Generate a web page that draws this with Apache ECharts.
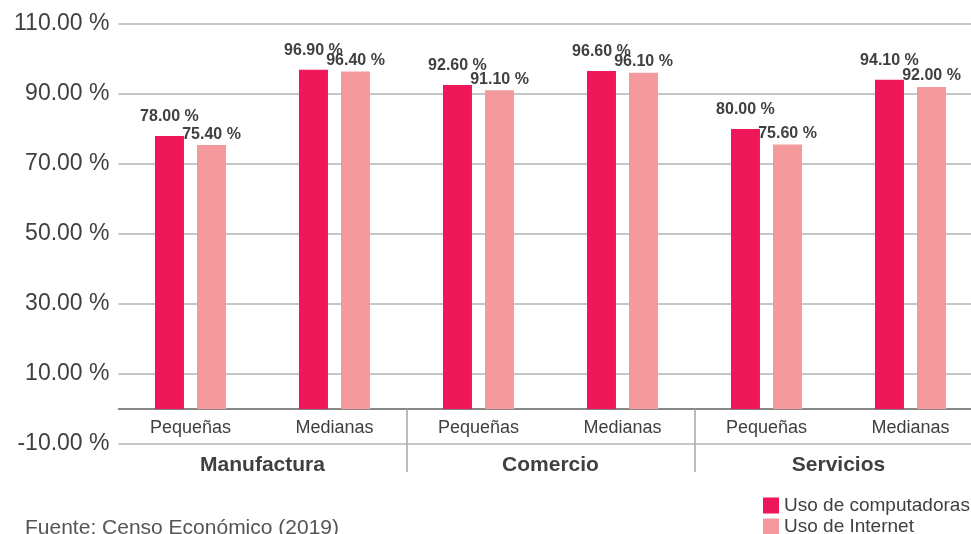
<!DOCTYPE html>
<html>
<head>
<meta charset="utf-8">
<script src="https://cdn.jsdelivr.net/npm/echarts@6/dist/echarts.min.js"></script>
<style>
  html, body { margin: 0; padding: 0; background: #fff; overflow: hidden; }
  #chart { width: 990px; height: 534px; }
</style>
</head>
<body>
<div id="chart"></div>
<script>
// tamaños de empresa por sector
const categories = ['Pequeñas', 'Medianas', 'Pequeñas', 'Medianas', 'Pequeñas', 'Medianas']
const sectors = ['Manufactura', 'Comercio', 'Servicios']
const usoComputadoras = [78.0, 96.9, 92.6, 96.6, 80.0, 94.1]
const usoInternet = [75.4, 96.4, 91.1, 96.1, 75.6, 92.0]

const textColor = '#404040'
const fontFamily = '"Liberation Sans", Arial, sans-serif'
const pct = v => v.toFixed(2) + ' %'

const legendText = { color: textColor, fontSize: 19 }

const chart = echarts.init(document.getElementById('chart'))
chart.setOption({
  animation: false,
  textStyle: { fontFamily: fontFamily },
  grid: { left: 118.5, top: 24, width: 864, height: 420 },
  // una leyenda por serie, apiladas
  legend: [
    {
      data: ['Uso de computadoras'],
      left: 763, top: 496,
      icon: 'rect', itemWidth: 16, itemHeight: 16, padding: 0,
      textStyle: legendText
    },
    {
      data: ['Uso de Internet'],
      left: 763, top: 517,
      icon: 'rect', itemWidth: 16, itemHeight: 16, padding: 0,
      textStyle: legendText
    }
  ],
  graphic: [{
    type: 'text',
    left: 25,
    top: 518,
    style: { text: 'Fuente: Censo Económico (2019)', fill: '#555', font: '21px ' + fontFamily }
  }],
  xAxis: [
    {
      type: 'category',
      data: categories,
      position: 'bottom',
      offset: -35, // linea en el 0
      axisLine: { onZero: false, lineStyle: { color: '#606060', width: 1.5 } },
      axisTick: {
        show: true,
        length: 63,
        interval: (index) => index === 2 || index === 4,
        lineStyle: { color: '#A6A6A6', width: 1.5 }
      },
      axisLabel: { color: textColor, fontSize: 18, margin: 10, interval: 0 }
    },
    {
      type: 'category',
      data: sectors,
      position: 'bottom',
      axisLine: { show: false, onZero: false },
      axisTick: { show: false },
      axisLabel: { color: textColor, fontSize: 21, fontWeight: 'bold', margin: 11, interval: 0 }
    }
  ],
  yAxis: {
    type: 'value',
    min: -10,
    max: 110,
    interval: 20,
    axisLine: { show: false },
    axisTick: { show: false },
    axisLabel: { color: textColor, fontSize: 23, margin: 9, formatter: pct },
    splitLine: { lineStyle: { color: '#B3B3B3', width: 1.5 } }
  },
  series: [
    {
      name: 'Uso de computadoras',
      type: 'bar',
      xAxisIndex: 0,
      data: usoComputadoras,
      barWidth: 29,
      barGap: '45%',
      itemStyle: { color: '#EE175A' },
      label: {
        show: true, position: 'top', distance: 11,
        color: textColor, fontSize: 16, fontWeight: 'bold',
        formatter: p => pct(p.value)
      }
    },
    {
      name: 'Uso de Internet',
      type: 'bar',
      xAxisIndex: 0,
      data: usoInternet,
      barWidth: 29,
      itemStyle: { color: '#F4999C' },
      label: {
        show: true, position: 'top', distance: 3,
        color: textColor, fontSize: 16, fontWeight: 'bold',
        formatter: p => pct(p.value)
      }
    }
  ]
})
</script>
</body>
</html>
